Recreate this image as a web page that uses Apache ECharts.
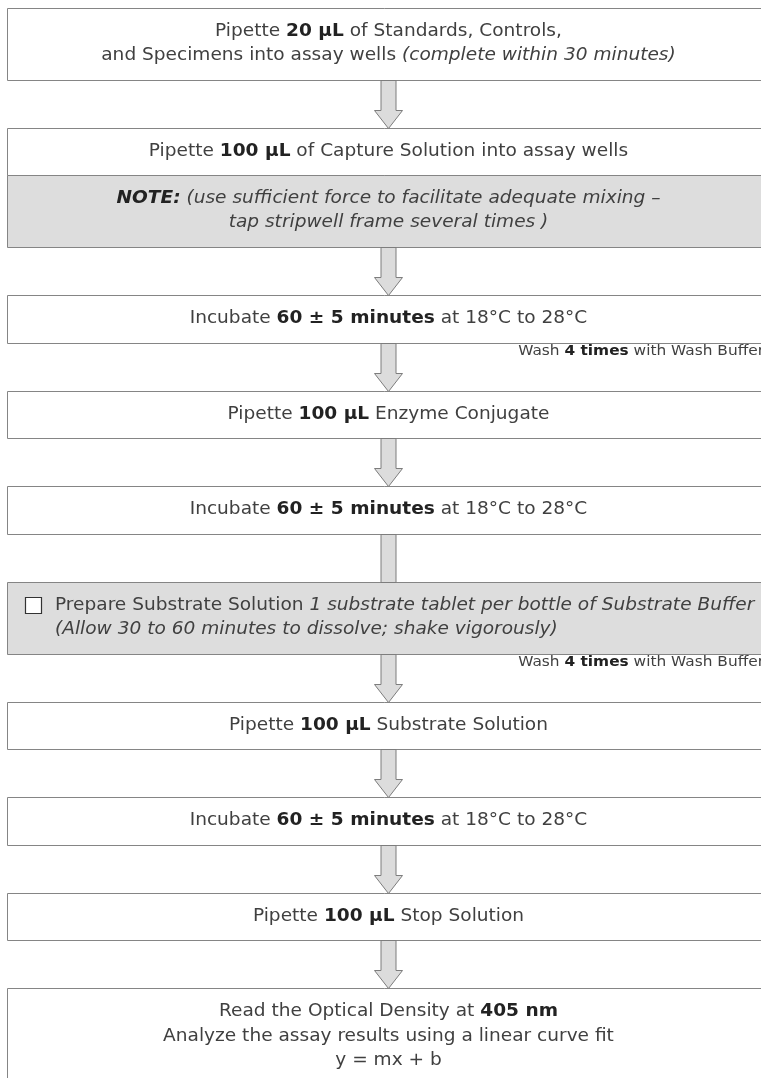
<!DOCTYPE html>
<html><head><meta charset="utf-8">
<script src="https://cdn.jsdelivr.net/npm/echarts@6/dist/echarts.min.js"></script>
<style>html,body{margin:0;padding:0;background:#fff}#c{width:761px;height:1078px}</style>
</head><body><div id="c"></div>
<script>
// ---- content (rich markup: {b|bold} {i|italic} {bi|bold italic}) ----
const stepLines = [
  ['Pipette {b|20 µL} of Standards, Controls,', 'and Specimens into assay wells {i|(complete within 30 minutes)}'],
  ['Pipette {b|100 µL} of Capture Solution into assay wells'],
  ['{bi|NOTE:} {i|(use sufficient force to facilitate adequate mixing –}', '{i|tap stripwell frame several times )}'],
  ['Incubate {b|60 ± 5 minutes} at 18°C to 28°C'],
  ['Pipette {b|100 µL} Enzyme Conjugate'],
  ['Incubate {b|60 ± 5 minutes} at 18°C to 28°C'],
  ['Prepare Substrate Solution {i|1 substrate tablet per bottle of Substrate Buffer}', '{i|(Allow 30 to 60 minutes to dissolve; shake vigorously)}'],
  ['Pipette {b|100 µL} Substrate Solution'],
  ['Incubate {b|60 ± 5 minutes} at 18°C to 28°C'],
  ['Pipette {b|100 µL} Stop Solution'],
  ['Read the Optical Density at {b|405 nm}', 'Analyze the assay results using a linear curve fit', 'y = mx + b']
];
const stepShaded   = [false, false, true, false, false, false, true, false, false, false, false];
const stepJoined   = [false, false, true, false, false, false, false, false, false, false, false];
const stepCheckbox = [false, false, false, false, false, false, true, false, false, false, false];
// connector drawn above each step: 'none' | 'arrow' | 'shaft'
const connectors   = ['none', 'arrow', 'none', 'arrow', 'arrow', 'arrow', 'shaft', 'arrow', 'arrow', 'arrow', 'arrow'];
// side note written just under a step
const washNotes    = ['', '', '', 'Wash {b|4 times} with Wash Buffer', '', '', 'Wash {b|4 times} with Wash Buffer', '', '', '', ''];

// ---- layout constants ----
const L = {
  left: 7.5, right: 770, top: 7.5, gap: 48, lineH: 24.5, pad: 23,
  cx: 388.5, shaftHalf: 7.5, headHalf: 14, headH: 18,
  font: 'DejaVu Sans', fontSize: 17.5, noteSize: 14.5, stretch: 1.06
};
const COL = { border: '#858585', shade: '#dddddd', text: '#404040', bold: '#222222', arrow: '#dcdcdc', arrowStroke: '#7d7d7d' };

function richFor(size) {
  const base = { fontFamily: L.font, fontSize: size, lineHeight: L.lineH, fill: COL.text, color: COL.text };
  return {
    b: Object.assign({}, base, { fontWeight: 'bold', fill: COL.bold, color: COL.bold }),
    i: Object.assign({}, base, { fontStyle: 'italic' }),
    bi: Object.assign({}, base, { fontWeight: 'bold', fontStyle: 'italic', fill: COL.bold, color: COL.bold })
  };
}

function textEl(text, x, y, align, size) {
  return {
    type: 'text', z: 3, x: x, y: y, scaleX: L.stretch, scaleY: 1,
    style: {
      text: text, x: 0, y: 0,
      align: align, textAlign: align, verticalAlign: 'middle', textVerticalAlign: 'middle',
      fontFamily: L.font, fontSize: size, lineHeight: L.lineH,
      fill: COL.text, rich: richFor(size)
    }
  };
}

const elements = [];
const arrows = [];
let y = L.top;
let prevBottom = null;
stepLines.forEach((lines, i) => {
  if (i > 0) y = stepJoined[i] ? prevBottom : prevBottom + L.gap;
  const h = L.pad + L.lineH * lines.length;
  const yt = Math.round(y) + 0.5;
  const yb = Math.round(y + h) + 0.5;
  elements.push({
    type: 'rect', z: 1,
    shape: { x: L.left, y: yt, width: L.right - L.left, height: yb - yt },
    style: { fill: stepShaded[i] ? COL.shade : '#ffffff', stroke: COL.border, lineWidth: 1 }
  });
  const leftAligned = stepCheckbox[i];
  if (stepCheckbox[i]) {
    elements.push({
      type: 'rect', z: 3,
      shape: { x: 25.5, y: yt + 15, width: 16, height: 16 },
      style: { fill: '#ffffff', stroke: '#333333', lineWidth: 1.2 }
    });
  }
  elements.push(textEl(lines.join('\n'), leftAligned ? 55 : L.cx, (yt + yb) / 2 - 1,
    leftAligned ? 'left' : 'center', L.fontSize));
  if (connectors[i] !== 'none' && prevBottom !== null) {
    const a = Math.round(prevBottom) + 0.5, b = yt;
    const c = L.cx, s = L.shaftHalf, hh = L.headHalf;
    const pts = connectors[i] === 'arrow'
      ? [[c - s, a], [c + s, a], [c + s, b - L.headH], [c + hh, b - L.headH], [c, b], [c - hh, b - L.headH], [c - s, b - L.headH]]
      : [[c - s, a], [c + s, a], [c + s, b], [c - s, b]];
    arrows.push({
      type: 'polygon', z: 2,
      shape: { points: pts },
      style: { fill: COL.arrow, stroke: COL.arrowStroke, lineWidth: 1 }
    });
  }
  if (washNotes[i]) {
    elements.push(textEl(washNotes[i], 764, yb + 7.5, 'right', L.noteSize));
  }
  prevBottom = y + h;
});

const chart = echarts.init(document.getElementById('c'), null, { renderer: 'canvas' });
chart.setOption({
  backgroundColor: '#ffffff',
  animation: false,
  graphic: { elements: elements.concat(arrows) }
});
</script></body></html>
